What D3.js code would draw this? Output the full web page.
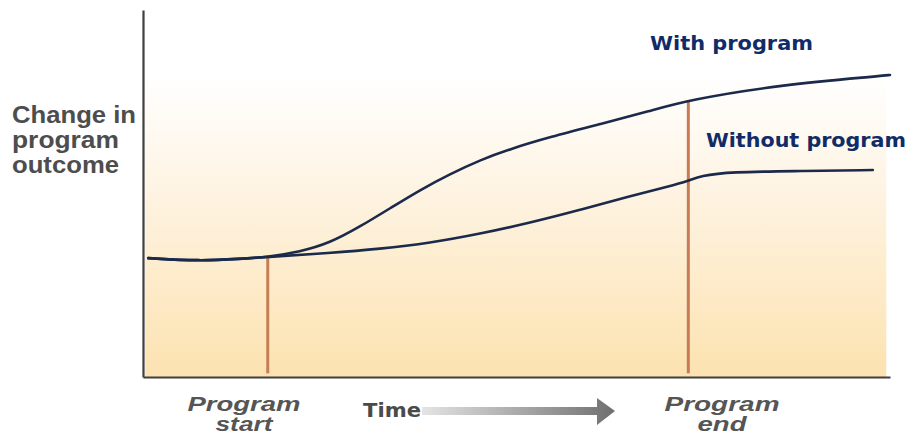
<!doctype html>
<html>
<head>
<meta charset="utf-8"/>
<title>Program outcome over time</title>
<script src="https://cdnjs.cloudflare.com/ajax/libs/d3/7.8.5/d3.min.js"></script>
<style>
  body { margin: 0; background: #fff; }
  svg { display: block; }
</style>
</head>
<body>
<svg width="909" height="441"></svg>
<script>
// shared path before the program starts
var baseTime  = [0.7, 7.6, 13, 16.7];
var baseValue = [32.4, 31.6, 32.2, 32.7];

// after the start, the two outcomes part ways
var withTime  = [21.0, 25.0, 29.0, 33.1, 37.1, 41.1, 45.1, 49.1, 54.5, 61.2, 67.9, 73.0, 85.3, 98.7, 100];
var withValue = [34.1, 36.5, 40.9, 46.0, 51.0, 55.3, 59.1, 62.1, 65.4, 68.9, 72.5, 75.5, 79.6, 82.0, 82.3];

var withoutTime  = [25.0, 31.7, 38.4, 45.1, 51.8, 58.5, 65.2, 70.5, 73.0, 74.6, 78.6, 88.0, 97.7];
var withoutValue = [33.8, 34.9, 36.5, 39.0, 42.0, 45.5, 49.3, 52.0, 53.4, 54.8, 55.9, 56.1, 56.4];

var programStart = 16.7;
var programEnd = 73;

var seriesLabels = ["With program", "Without program"];
var yLabel = ["Change in", "program", "outcome"];
var startLabel = ["Program", "start"];
var endLabel = ["Program", "end"];
var timeLabel = "Time";

var svg = d3.select("svg");

var xScale = d3.scaleLinear().domain([0, 100]).range([143, 890]);
var yScale = d3.scaleLinear().domain([0, 100]).range([377, 10]);

// background wash
var defs = svg.append("defs");
var bg = defs.append("linearGradient").attr("id", "wash")
  .attr("x1", 0).attr("y1", 0).attr("x2", 0).attr("y2", 1);
bg.append("stop").attr("offset", "0%").attr("stop-color", "#ffffff");
bg.append("stop").attr("offset", "40%").attr("stop-color", "#fef3e1");
bg.append("stop").attr("offset", "100%").attr("stop-color", "#fce2b0");

svg.append("rect")
  .attr("x", xScale(0.3)).attr("y", yScale(82))
  .attr("width", xScale(99.5) - xScale(0.3))
  .attr("height", yScale(0) - yScale(82))
  .attr("fill", "url(#wash)");

var arrowGrad = defs.append("linearGradient").attr("id", "arrowGrad")
  .attr("x1", 0).attr("y1", 0).attr("x2", 1).attr("y2", 0);
arrowGrad.append("stop").attr("offset", "0%").attr("stop-color", "#e4e4e4");
arrowGrad.append("stop").attr("offset", "100%").attr("stop-color", "#6f6f6f");

// axes, no ticks
var xAxis = d3.axisBottom(xScale).ticks(0).tickSizeOuter(0);
var yAxis = d3.axisLeft(yScale).ticks(0).tickSizeOuter(0);

svg.append("g").attr("id", "xAxisG")
  .attr("transform", "translate(0," + yScale(0) + ")")
  .call(xAxis);
svg.append("g").attr("id", "yAxisG")
  .attr("transform", "translate(" + xScale(0) + ",0)")
  .call(yAxis);
svg.selectAll(".domain").attr("stroke", "#3f3f3f").attr("stroke-width", 2.2);

// program start / end markers
function valueAt(times, values, t) {
  var i = times.indexOf(t);
  return values[i];
}
svg.append("line")
  .attr("x1", xScale(programStart)).attr("x2", xScale(programStart))
  .attr("y1", yScale(baseValue[baseValue.length - 1])).attr("y2", yScale(1))
  .attr("stroke", "#c47f55").attr("stroke-width", 3);
svg.append("line")
  .attr("x1", xScale(programEnd)).attr("x2", xScale(programEnd))
  .attr("y1", yScale(valueAt(withTime, withValue, programEnd))).attr("y2", yScale(1))
  .attr("stroke", "#c97a54").attr("stroke-width", 3);

// the two curves
var line = d3.line()
  .x(function(d) { return xScale(d[0]); })
  .y(function(d) { return yScale(d[1]); })
  .curve(d3.curveBasis);

var base = d3.zip(baseTime, baseValue);
var withPts = base.concat(d3.zip(withTime, withValue));
var withoutPts = base.concat(d3.zip(withoutTime, withoutValue));

[withoutPts, withPts].forEach(function(pts) {
  svg.append("path")
    .attr("d", line(pts))
    .attr("fill", "none")
    .attr("stroke", "#1b2a4a")
    .attr("stroke-width", 2.6)
    .attr("stroke-linecap", "round");
});

// series labels
svg.append("text")
  .attr("x", 650).attr("y", 50)
  .attr("textLength", 163).attr("lengthAdjust", "spacingAndGlyphs")
  .style("font", "bold 19px 'DejaVu Sans', sans-serif")
  .attr("fill", "#0f2c69")
  .text(seriesLabels[0]);
svg.append("text")
  .attr("x", 706).attr("y", 147)
  .attr("textLength", 200).attr("lengthAdjust", "spacingAndGlyphs")
  .style("font", "bold 19px 'DejaVu Sans', sans-serif")
  .attr("fill", "#0f2c69")
  .text(seriesLabels[1]);

// y axis label
var yLens = [124, 107, 107];
var yl = svg.append("text")
  .style("font", "bold 23px 'Liberation Sans', Arial, sans-serif")
  .attr("fill", "#4d4d4d");
yLabel.forEach(function(s, i) {
  yl.append("tspan").attr("x", 12).attr("y", 123 + i * 25)
    .attr("textLength", yLens[i]).attr("lengthAdjust", "spacingAndGlyphs")
    .text(s);
});

// bottom labels
function twoLine(lines, cx, lens) {
  lines.forEach(function(s, i) {
    svg.append("text")
      .attr("x", cx - lens[i] / 2).attr("y", 411 + i * 20)
      .attr("textLength", lens[i]).attr("lengthAdjust", "spacingAndGlyphs")
      .style("font", "italic bold 20px 'Liberation Sans', Arial, sans-serif")
      .attr("fill", "#555555")
      .text(s);
  });
}
twoLine(startLabel, 244, [113, 57]);
twoLine(endLabel, 722, [115, 49]);

svg.append("text")
  .attr("x", 363).attr("y", 417)
  .attr("textLength", 58).attr("lengthAdjust", "spacingAndGlyphs")
  .style("font", "bold 19px 'DejaVu Sans', sans-serif")
  .attr("fill", "#4a4a4a")
  .text(timeLabel);

svg.append("path")
  .attr("d", "M422,407 L597,407 L597,398 L615,411 L597,425 L597,415 L422,415 Z")
  .attr("fill", "url(#arrowGrad)");
</script>
</body>
</html>
